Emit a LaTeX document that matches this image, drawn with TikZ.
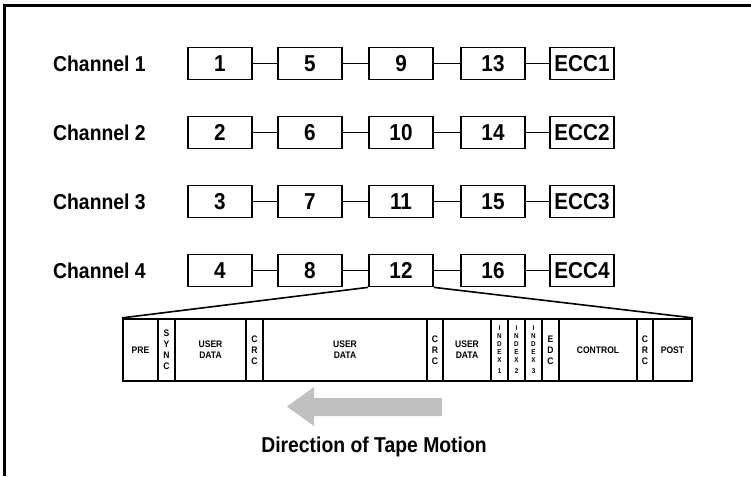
\documentclass[tikz,border=0pt]{standalone}
\usepackage{fontspec}
\setmainfont{Liberation Sans}[FakeStretch=0.9]
\definecolor{arrowgray}{RGB}{192,192,192}
\tikzset{
  blk/.style={draw, line width=1.7pt, minimum width=64, minimum height=32, inner sep=0,
    font=\fontsize{23}{26}\selectfont\bfseries},
  chan/.style={anchor=west, inner sep=0, font=\fontsize{21.5}{25}\selectfont\bfseries},
  seg/.style={draw, line width=2.2pt, minimum height=62, inner sep=0, align=center,
    font=\fontsize{9.5}{11}\selectfont\bfseries},
  idx/.style={seg, font=\fontsize{7}{7.8}\selectfont\bfseries},
}
\begin{document}
\begin{tikzpicture}[x=1pt, y=-1pt]
	\useasboundingbox (0,0) rectangle (751,476);
	
	% frame
	\draw[line width=3pt] (4,476) -- (4,6) -- (751,6);
	
	% channels and their blocks
	\foreach \r in {1,...,4}{
		\pgfmathsetmacro{\ry}{63.5+69*(\r-1)}
		\node[chan] (ch\r) at (53,\ry) {Channel \r};
		\foreach \c/\bx in {0/220,1/310,2/401,3/493}{
			\pgfmathtruncatemacro{\n}{\r+4*\c}
			\node[blk] (b\n) at (\bx,\ry) {\n};
		}
		\node[blk] (ecc\r) at (582,\ry) {ECC\r};
	}
	\foreach \r in {1,...,4}{
		\pgfmathtruncatemacro{\na}{\r}
		\pgfmathtruncatemacro{\nb}{\r+4}
		\pgfmathtruncatemacro{\nc}{\r+8}
		\pgfmathtruncatemacro{\nd}{\r+12}
		\draw[line width=1.6pt] (b\na.east) -- (b\nb.west);
		\draw[line width=1.6pt] (b\nb.east) -- (b\nc.west);
		\draw[line width=1.6pt] (b\nc.east) -- (b\nd.west);
		\draw[line width=1.6pt] (b\nd.east) -- (ecc\r.west);
	}
	
	% block 12 expanded
	\foreach \xa/\xb/\st/\txt/\nm in {
		123/158/seg/PRE/pre,
		158/175/seg/{S\\Y\\N\\C}/sync,
		175/246/seg/{USER\\DATA}/ud1,
		246/263/seg/{C\\R\\C}/crc1,
		263/427/seg/{USER\\DATA}/ud2,
		427/443/seg/{C\\R\\C}/crc2,
		443/491/seg/{USER\\DATA}/ud3,
		491/508/idx/{I\\N\\D\\E\\X\\[4pt]1}/ix1,
		508/525/idx/{I\\N\\D\\E\\X\\[4pt]2}/ix2,
		525/542/idx/{I\\N\\D\\E\\X\\[4pt]3}/ix3,
		542/559/seg/{E\\D\\C}/edc,
		559/637/seg/CONTROL/ctl,
		637/653/seg/{C\\R\\C}/crc3,
		653/692/seg/POST/post}{
		\node[\st, minimum width={\xb-\xa}] (\nm) at ({(\xa+\xb)/2},350) {\txt};
	}
	\draw[line width=1.6pt] (b12.south west) -- (pre.north west);
	\draw[line width=1.6pt] (b12.south east) -- (post.north east);
	
	% tape motion
	\fill[arrowgray] (442,398) -- (314,398) -- (314,387) -- (287,406.5)
		-- (314,426) -- (314,416) -- (442,416) -- cycle;
	\node[chan, anchor=center] (dir) at (374,447) {Direction of Tape Motion};
	
\end{tikzpicture}
\end{document}
